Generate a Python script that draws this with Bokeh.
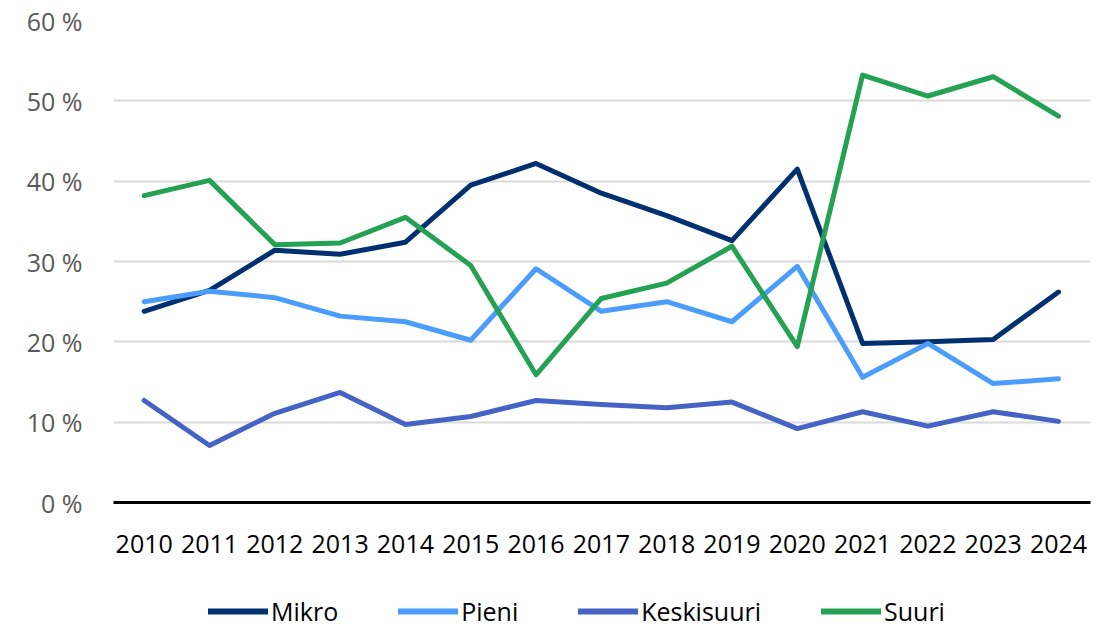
from bokeh.plotting import figure
from bokeh.models import Legend, LegendItem, FixedTicker, Range1d
from bokeh.layouts import column
from bokeh.embed import file_html
from bokeh.resources import INLINE

years = list(range(2010, 2025))
mikro = [23.8, 26.4, 31.4, 30.9, 32.4, 39.5, 42.2, 38.5, 35.7, 32.6, 41.5, 19.8, 20.0, 20.3, 26.2]
pieni = [25.0, 26.3, 25.5, 23.2, 22.5, 20.2, 29.1, 23.8, 25.0, 22.5, 29.4, 15.6, 19.8, 14.8, 15.4]
keskisuuri = [12.7, 7.1, 11.1, 13.7, 9.7, 10.7, 12.7, 12.2, 11.8, 12.5, 9.2, 11.3, 9.5, 11.3, 10.1]
suuri = [38.2, 40.1, 32.1, 32.3, 35.5, 29.5, 15.9, 25.4, 27.3, 31.9, 19.4, 53.2, 50.6, 53.0, 48.1]
series_names = ["Mikro", "Pieni", "Keskisuuri", "Suuri"]
colors = ["#003070", "#4a9dfc", "#4563c4", "#24a152"]
y_ticks = [0, 10, 20, 30, 40, 50, 60]
series = [mikro, pieni, keskisuuri, suuri]

FONT = "Open Sans"

p = figure(width=1104, height=580, output_backend="svg", toolbar_location=None,
           x_range=Range1d(2009.53, 2024.49), y_range=Range1d(0, 60),
           min_border_left=113, min_border_right=14, min_border_top=20,
           min_border_bottom=78)
p.outline_line_color = None
p.xgrid.grid_line_color = None
p.ygrid.grid_line_color = "#d9d9d9"
p.ygrid.grid_line_width = 2

p.yaxis.ticker = FixedTicker(ticks=y_ticks)
p.yaxis.major_label_overrides = {t: f"{t} %" for t in y_ticks}
p.yaxis.axis_line_color = None
p.yaxis.major_tick_line_color = None
p.yaxis.minor_tick_line_color = None
p.yaxis.major_label_standoff = 25
p.yaxis.major_label_text_font = FONT
p.yaxis.major_label_text_font_size = "25px"
p.yaxis.major_label_text_color = "#595959"

p.xaxis.ticker = FixedTicker(ticks=years)
p.xaxis.axis_line_color = "black"
p.xaxis.axis_line_width = 3
p.xaxis.major_tick_line_color = None
p.xaxis.minor_tick_line_color = None
p.xaxis.major_label_standoff = 26
p.xaxis.major_label_text_font = FONT
p.xaxis.major_label_text_font_size = "25px"
p.xaxis.major_label_text_color = "black"

for vals, c in zip(series, colors):
    p.line(years, vals, line_color=c, line_width=5, line_join="round", line_cap="round")

# legend strip below the chart (its data lies outside its view; only the legend shows)
lp = figure(width=1104, height=48, output_backend="svg", toolbar_location=None,
            x_axis_location=None, y_axis_location=None,
            min_border_left=0, min_border_right=0, min_border_top=0, min_border_bottom=0,
            x_range=Range1d(0, 1), y_range=Range1d(0, 1))
lp.outline_line_color = None
lp.xgrid.grid_line_color = None
lp.ygrid.grid_line_color = None

legend_renderers = []
for vals, c in zip(series, colors):
    legend_renderers.append(lp.line(years, vals, line_color=c, line_width=6, line_cap="round"))

items = [LegendItem(label=n, renderers=[r]) for n, r in zip(series_names, legend_renderers)]
lg = Legend(items=items, location=(95, 0), orientation="horizontal",
            border_line_color=None, background_fill_alpha=0,
            padding=0, margin=0, glyph_width=60, glyph_height=20, label_standoff=3,
            label_text_font=FONT, label_text_font_size="25px", label_text_color="black",
            spacing=60)
lp.add_layout(lg, "center")

layout = column(p, lp, spacing=0)
open("out.html", "w").write(file_html(layout, INLINE))
